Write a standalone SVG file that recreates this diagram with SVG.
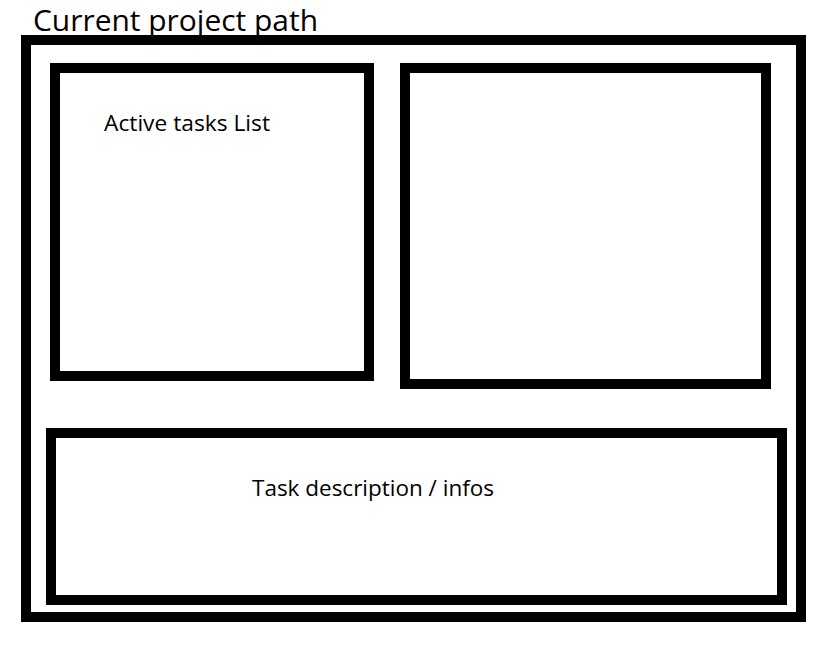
<svg xmlns="http://www.w3.org/2000/svg" width="826" height="645" viewBox="0 0 826 645">
<style>
.box{fill:none;stroke:#000;stroke-width:10}
.t{font-family:"Open Sans","Noto Sans","Liberation Sans",sans-serif;fill:#000}
</style>
<rect width="826" height="645" fill="#fff"/>
<g id="title"><text class="t" x="33" y="31" font-size="30" textLength="285" lengthAdjust="spacingAndGlyphs">Current project path</text></g>
<g id="window"><rect class="box" x="26" y="40" width="775" height="577"/></g>
<g id="active-tasks"><rect class="box" x="55" y="68" width="314" height="308"/>
<text class="t" x="104" y="131" font-size="22" textLength="166" lengthAdjust="spacingAndGlyphs">Active tasks List</text></g>
<g id="right-panel"><rect class="box" x="405" y="68" width="361" height="316"/></g>
<g id="task-description"><rect class="box" x="51" y="433" width="731" height="167"/>
<text class="t" x="252" y="496" font-size="22" textLength="242" lengthAdjust="spacingAndGlyphs">Task description / infos</text></g>
<g id="connectors"/>
</svg>
